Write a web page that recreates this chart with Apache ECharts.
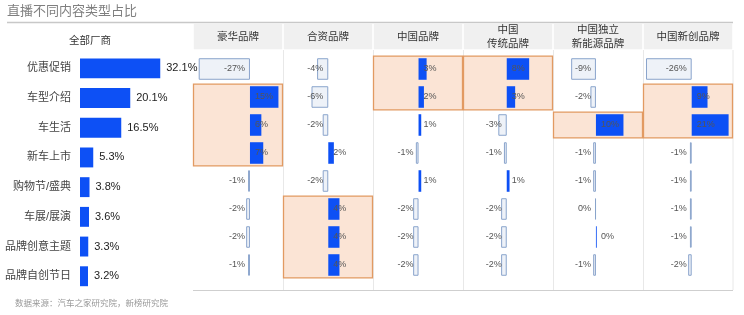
<!DOCTYPE html>
<html>
<head>
<meta charset="utf-8">
<script src="https://cdn.jsdelivr.net/npm/echarts@6/dist/echarts.min.js"></script>
<style>html,body{margin:0;padding:0;background:#fff;}#c{width:744px;height:315px;}</style>
</head>
<body>
<div id="c"></div>
<script>
// ---------- data ----------
const categories = ['优惠促销','车型介绍','车生活','新车上市','购物节/盛典','车展/展演','品牌创意主题','品牌自创节日'];
const allMakers = [32.1, 20.1, 16.5, 5.3, 3.8, 3.6, 3.3, 3.2];
const columnNames = ['豪华品牌','合资品牌','中国品牌','中国\n传统品牌','中国独立\n新能源品牌','中国新创品牌'];
const luxury      = [-27, 15, 6, 7, -1, -2, -2, -1];
const jointVenture= [-4, -6, -2, 2, -2, 4, 4, 4];
const chinese     = [3, 2, 1, -1, 1, -2, -2, -2];
const traditional = [8, 3, -3, -1, 1, -2, -2, -2];
const independentNEV = [-9, -2, 10, -1, -1, -0.3, 0.3, -1];
const newBrands   = [-26, 9, 21, -1, -1, -1, -1, -2];
const columnValues = [luxury, jointVenture, chinese, traditional, independentNEV, newBrands];
// highlighted blocks: [column, first row, last row]
const highlights = [[0,1,3],[1,5,7],[2,0,1],[3,0,1],[4,2,2],[5,1,2]];

// ---------- layout / style ----------
const axisRanges = [[-30,17.4],[-16.2,16],[-16.9,16.5],[-15.6,16.5],[-15.6,17.1],[-27.7,23.5]];
const COL_LEFT = 193, COL_W = 90;
const BLUE = '#0d50f5';
const FONT = 'Liberation Sans, Noto Sans CJK SC, sans-serif';

const chart = echarts.init(document.getElementById('c'), null, {renderer:'canvas'});

const grids = [{left:80, top:53.5, width:100, height:237.6}];
const xAxes = [{gridIndex:0, type:'value', min:0, max:40, show:false}];
const yAxes = [{gridIndex:0, type:'category', data:categories, inverse:true,
  axisLine:{show:false}, axisTick:{show:false},
  axisLabel:{color:'#444', fontSize:11, margin:9, fontFamily:FONT}}];
const series = [{
  type:'bar', xAxisIndex:0, yAxisIndex:0, data:allMakers, barWidth:'67%',
  itemStyle:{color:BLUE},
  label:{show:true, position:'right', distance:6, color:'#222', fontSize:11, fontFamily:FONT,
    formatter:p=>p.value.toFixed(1)+'%'}
}];

columnValues.forEach((vals, i) => {
  const gi = i + 1;
  grids.push({left:COL_LEFT + COL_W*i, top:55, width:COL_W, height:224});
  xAxes.push({gridIndex:gi, type:'value', min:axisRanges[i][0], max:axisRanges[i][1], show:false});
  yAxes.push({gridIndex:gi, type:'category', data:categories, inverse:true, show:false});
  series.push({
    type:'custom', xAxisIndex:gi, yAxisIndex:gi, z:1, silent:true,
    data: highlights.filter(h=>h[0]===i).map(h=>[0, h[1], h[2]]),
    renderItem:(params, api) => {
      const band = api.size([0,1])[1];
      const y0 = api.coord([0, api.value(1)])[1] - band*0.46;
      const y1 = api.coord([0, api.value(2)])[1] + band*0.46;
      const cs = params.coordSys;
      return {type:'rect', shape:{x:cs.x+0.5, y:y0, width:cs.width-1, height:y1-y0},
        style:{fill:'#fbe4d5', stroke:'#e29a62', lineWidth:1.3}};
    }
  });
  series.push({
    type:'bar', xAxisIndex:gi, yAxisIndex:gi, z:3, barWidth:'77%',
    data: vals.map(v => ({
      value: v,
      itemStyle: v >= 0 ? {color:BLUE} : {color:'#eef2f8', borderColor:'#8aa4cc', borderWidth:1},
      label: {position: v >= 0 ? 'insideLeft' : 'insideRight'}
    })),
    label:{show:true, distance:5, color:'#555', fontSize:9, fontFamily:FONT,
      formatter:p=>Math.round(p.value)+'%'}
  });
});

// ---------- decorations ----------
const graphic = [
  {type:'text', left:7, top:5, style:{text:'直播不同内容类型占比', fill:'#7f7f7f', font:'13px '+FONT}},
  {type:'line', shape:{x1:7, y1:22.5, x2:733, y2:22.5}, style:{stroke:'#c8c8c8', lineWidth:1.5}},
  {type:'text', x:90, y:41, style:{text:'全部厂商', fill:'#333', font:'10.5px '+FONT, align:'center', verticalAlign:'middle'}},
  {type:'line', shape:{x1:193, y1:290.5, x2:733, y2:290.5}, style:{stroke:'#cfcfcf', lineWidth:1.2}},
  {type:'text', left:15, top:299, style:{text:'数据来源：汽车之家研究院，新榜研究院', fill:'#999', font:'8.5px '+FONT}}
];
columnNames.forEach((name, i) => {
  const x = COL_LEFT + COL_W*i;
  graphic.push({type:'rect', z:0, shape:{x:x+0.8, y:23.3, width:COL_W-1.6, height:26}, style:{fill:'#f0f0f0'}});
  graphic.push({type:'text', x:x+COL_W/2, y:37, style:{text:name, fill:'#333', font:'10.5px '+FONT,
    align:'center', verticalAlign:'middle', lineHeight:14}});
  if (i > 0) graphic.push({type:'line', shape:{x1:x+0.5, y1:50, x2:x+0.5, y2:290}, style:{stroke:'#e8e8e8', lineWidth:1}});
});
graphic.push({type:'line', shape:{x1:733, y1:50, x2:733, y2:290}, style:{stroke:'#e8e8e8', lineWidth:1}});

chart.setOption({
  animation:false,
  textStyle:{fontFamily:FONT},
  grid:grids, xAxis:xAxes, yAxis:yAxes, series:series, graphic:graphic
});
</script>
</body>
</html>
